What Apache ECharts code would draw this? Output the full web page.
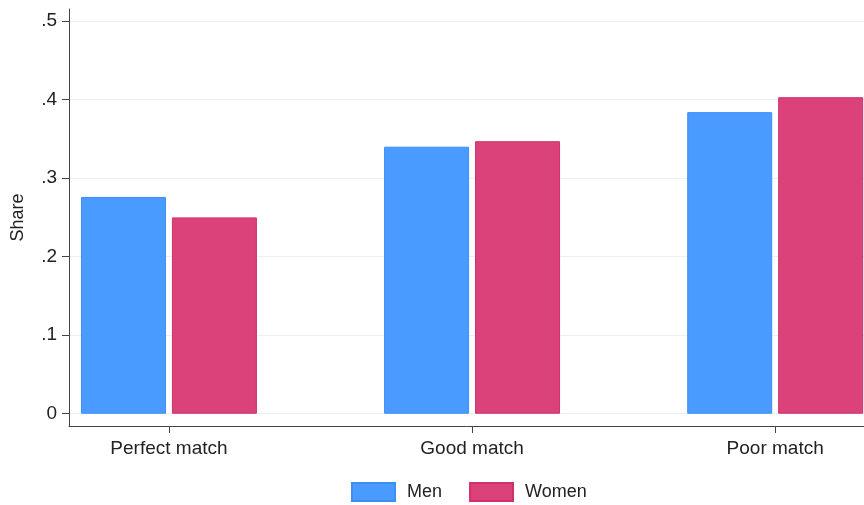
<!DOCTYPE html>
<html>
<head>
<meta charset="utf-8">
<script src="https://cdn.jsdelivr.net/npm/echarts@6/dist/echarts.min.js"></script>
<style>html,body{margin:0;padding:0;background:#fff}#c{width:864px;height:505px}</style>
</head>
<body>
<div id="c"></div>
<script>
const categories = ['Perfect match', 'Good match', 'Poor match'];
const men = [0.276, 0.340, 0.384];
const women = [0.250, 0.347, 0.403];
const yTicks = [0, 0.1, 0.2, 0.3, 0.4, 0.5];
const yTickLabels = ['0', '.1', '.2', '.3', '.4', '.5'];
const catPositions = [1, 2, 3];

const font = 'Liberation Sans, Arial, sans-serif';
const chart = echarts.init(document.getElementById('c'), null, {renderer: 'canvas'});
chart.setOption({
  animation: false,
  backgroundColor: '#fff',
  textStyle: {fontFamily: font},
  grid: {left: 69, right: 0, top: 9, bottom: 79, containLabel: false},
  legend: {
    left: 351, top: 482, padding: 0,
    itemWidth: 43, itemHeight: 18, itemGap: 27,
    icon: 'rect',
    textStyle: {fontSize: 18, color: '#222', fontFamily: font, padding: [0, 0, 0, 7]},
    data: ['Men', 'Women']
  },
  xAxis: {
    type: 'value',
    min: 0.6703, max: 3.293,
    axisLine: {show: true, onZero: false, lineStyle: {color: '#444', width: 1}},
    axisTick: {show: true, length: 7, customValues: catPositions, lineStyle: {color: '#444'}},
    axisLabel: {
      customValues: catPositions, margin: 13, fontSize: 19, color: '#222', fontFamily: font,
      formatter: v => categories[Math.round(v) - 1]
    },
    splitLine: {show: false}
  },
  yAxis: {
    type: 'value',
    min: -0.0156, max: 0.5153,
    name: 'Share', nameLocation: 'middle', nameGap: 42, nameRotate: 90,
    nameTextStyle: {fontSize: 18, color: '#222', fontFamily: font},
    axisLine: {show: true, onZero: false, lineStyle: {color: '#444', width: 1}},
    axisTick: {show: true, length: 7, customValues: yTicks, lineStyle: {color: '#444'}},
    axisLabel: {
      customValues: yTicks, margin: 12, fontSize: 19, color: '#222', fontFamily: font,
      formatter: v => { const i = yTicks.findIndex(t => Math.abs(t - v) < 1e-6); return i >= 0 ? yTickLabels[i] : ''; }
    },
    splitLine: {show: true, lineStyle: {color: '#ebf0f4', width: 1}}
  },
  series: [
    {
      name: 'Men', type: 'bar', barWidth: 85, barGap: '7%',
      itemStyle: {color: '#4a9bff', borderColor: '#3d8ef5', borderWidth: 1},
      data: catPositions.map((p, i) => [p, men[i]])
    },
    {
      name: 'Women', type: 'bar', barWidth: 85, barGap: '7%',
      itemStyle: {color: '#db4279', borderColor: '#d1306a', borderWidth: 1},
      data: catPositions.map((p, i) => [p, women[i]])
    }
  ]
});
</script>
</body>
</html>
